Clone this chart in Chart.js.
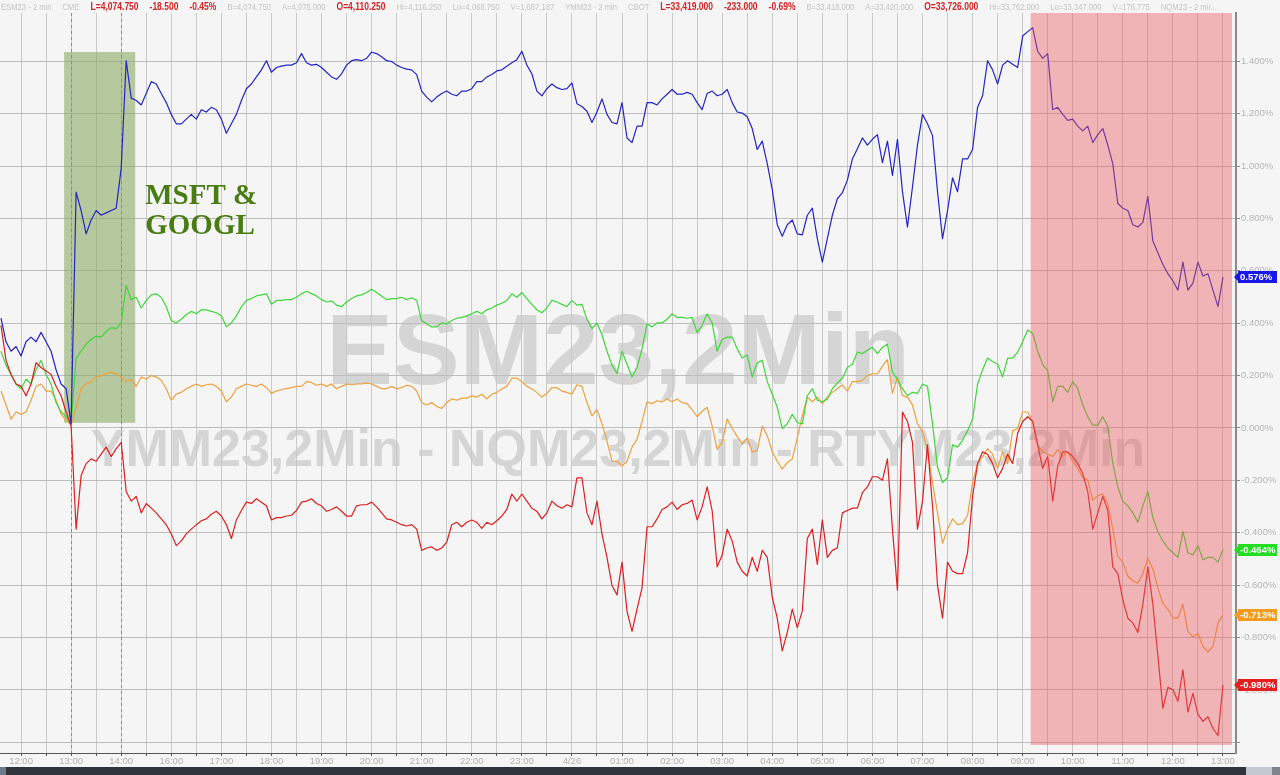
<!DOCTYPE html>
<html>
<head>
<meta charset="utf-8">
<script src="https://cdn.jsdelivr.net/npm/chart.js@4.4.0/dist/chart.umd.min.js"></script>
<style>
  html, body { margin: 0; padding: 0; background: #f5f5f5; }
  #wrap { width: 1280px; height: 775px; }
</style>
</head>
<body>
<div id="wrap"><canvas id="futuresChart" width="1280" height="775"></canvas></div>
<script>
// x axis runs in "session hours": 12:00 = 0, 13:00 next day = 24 (the 15:00 break is squeezed out)
const xTickLabels = ['12:00', '13:00', '14:00', '16:00', '17:00', '18:00', '19:00', '20:00', '21:00', '22:00',
  '23:00', '4/26', '01:00', '02:00', '03:00', '04:00', '05:00', '06:00', '07:00', '08:00', '09:00', '10:00',
  '11:00', '12:00', '13:00'];
const yTickValues = [1.4, 1.2, 1.0, 0.8, 0.6, 0.4, 0.2, 0, -0.2, -0.4, -0.6, -0.8, -1.0, -1.2];
const X_START = -0.4;
const X_STEP = 0.1;

// % change, one reading every 6 minutes
const nqValues = [
  0.419, 0.329, 0.293, 0.311, 0.275, 0.329, 0.347, 0.329, 0.365, 0.329, 0.293, 0.222, 0.168, 0.150, 0.016,
  0.900, 0.830, 0.741, 0.794, 0.830, 0.812, 0.821, 0.830, 0.839, 0.991, 1.402, 1.259, 1.250, 1.233, 1.277,
  1.322, 1.313, 1.277, 1.242, 1.197, 1.161, 1.161, 1.179, 1.197, 1.179, 1.215, 1.206, 1.224, 1.215, 1.179,
  1.125, 1.161, 1.197, 1.250, 1.295, 1.313, 1.340, 1.367, 1.402, 1.358, 1.376, 1.381, 1.385, 1.385, 1.394,
  1.429, 1.394,
  1.385, 1.388, 1.376, 1.358, 1.340, 1.331, 1.352, 1.385, 1.402, 1.406, 1.402, 1.411, 1.435, 1.429, 1.417,
  1.402, 1.399, 1.385, 1.376, 1.370, 1.367, 1.349, 1.286, 1.263, 1.245, 1.263, 1.277, 1.286, 1.274, 1.268,
  1.286, 1.286, 1.295, 1.322, 1.322, 1.340, 1.349, 1.363, 1.367, 1.381, 1.394, 1.406, 1.438, 1.385, 1.352,
  1.286, 1.268, 1.295, 1.313, 1.299, 1.292, 1.295, 1.317, 1.238, 1.227, 1.209, 1.166, 1.206, 1.256, 1.197,
  1.166,
  1.161, 1.242, 1.107, 1.089, 1.152, 1.152, 1.242, 1.242, 1.233, 1.256, 1.274, 1.292, 1.274, 1.274, 1.281,
  1.274, 1.242, 1.215, 1.277, 1.286, 1.268, 1.274, 1.292, 1.242, 1.206, 1.202, 1.188, 1.143, 1.063, 1.095,
  1.009, 0.911, 0.776, 0.732, 0.776, 0.794, 0.741, 0.737, 0.812, 0.839, 0.723, 0.633, 0.723, 0.812, 0.875,
  0.898, 0.946, 1.027, 1.066, 1.107, 1.080, 1.102, 1.120, 1.013, 1.095, 0.964, 1.102, 0.902, 0.767, 0.920,
  1.080,
  1.197, 1.161, 1.116, 0.902, 0.723, 0.830, 0.955, 0.902, 1.027, 1.027, 1.063, 1.224, 1.268, 1.402, 1.367,
  1.313, 1.385, 1.402, 1.388, 1.376, 1.496, 1.513, 1.528, 1.438, 1.411, 1.429, 1.215, 1.224, 1.197, 1.174,
  1.179, 1.152, 1.134, 1.152, 1.089, 1.120, 1.143, 1.080, 1.009, 0.857, 0.839, 0.830, 0.776, 0.767, 0.785,
  0.884, 0.714, 0.669, 0.624, 0.589, 0.562, 0.526, 0.633, 0.526, 0.553, 0.633, 0.580, 0.589, 0.526, 0.463,
  0.576
];
const esValues = [
  0.293, 0.240, 0.204, 0.168, 0.150, 0.186, 0.168, 0.222, 0.258, 0.204, 0.168, 0.097, 0.061, 0.043, 0.016,
  0.267, 0.293, 0.320, 0.338, 0.351, 0.347, 0.369, 0.383, 0.379, 0.401, 0.544, 0.490, 0.499, 0.458, 0.487,
  0.508, 0.512, 0.499, 0.463, 0.410, 0.401, 0.415, 0.433, 0.445, 0.436, 0.451, 0.451, 0.445, 0.440, 0.428,
  0.386, 0.401, 0.428, 0.463, 0.487, 0.494, 0.504, 0.508, 0.512, 0.472, 0.487, 0.487, 0.490, 0.490, 0.499,
  0.512, 0.522,
  0.513, 0.504, 0.490, 0.481, 0.485, 0.469, 0.463, 0.481, 0.494, 0.504, 0.508, 0.517, 0.530, 0.517, 0.504,
  0.490, 0.494, 0.494, 0.499, 0.490, 0.497, 0.487, 0.410, 0.397, 0.386, 0.386, 0.401, 0.397, 0.410, 0.419,
  0.422, 0.428, 0.436, 0.445, 0.436, 0.451, 0.458, 0.469, 0.476, 0.487, 0.512, 0.499, 0.517, 0.494, 0.472,
  0.451, 0.440, 0.458, 0.487, 0.481, 0.472, 0.463, 0.487, 0.469, 0.472, 0.415, 0.379, 0.401, 0.356, 0.293,
  0.240,
  0.208, 0.293, 0.243, 0.195, 0.231, 0.302, 0.397, 0.386, 0.401, 0.401, 0.415, 0.436, 0.422, 0.422, 0.419,
  0.422, 0.365, 0.392, 0.436, 0.401, 0.293, 0.338, 0.347, 0.347, 0.302, 0.267, 0.279, 0.195, 0.249, 0.258,
  0.177, 0.129, 0.079, -0.002, 0.016, 0.052, 0.021, 0.016, 0.123, 0.150, 0.106, 0.100, 0.111, 0.150, 0.172,
  0.190, 0.231, 0.243, 0.290, 0.284, 0.297, 0.308, 0.284, 0.308, 0.320, 0.213, 0.186, 0.150, 0.123, 0.136,
  0.132,
  0.168, 0.159, 0.016, -0.150, -0.208, -0.190, -0.064, -0.073, -0.047, -0.011, 0.034, 0.168, 0.222, 0.267, 0.254,
  0.243, 0.195, 0.267, 0.267, 0.290, 0.329, 0.374, 0.361, 0.293, 0.243, 0.218, 0.100, 0.159, 0.159, 0.136,
  0.177, 0.150, 0.088, 0.043, 0.011, 0.011, 0.043, 0.007, -0.136, -0.225, -0.279, -0.297, -0.324, -0.360, -0.297,
  -0.243, -0.342, -0.395, -0.431, -0.458, -0.476, -0.494, -0.395, -0.476, -0.485, -0.449, -0.503, -0.494, -0.494, -0.512,
  -0.464
];
const ymValues = [
  0.141, 0.088, 0.034, 0.061, 0.052, 0.061, 0.106, 0.159, 0.168, 0.141, 0.141, 0.106, 0.052, 0.029, 0.011,
  0.079, 0.150, 0.168, 0.177, 0.195, 0.200, 0.208, 0.213, 0.208, 0.195, 0.177, 0.186, 0.159, 0.195, 0.186,
  0.200, 0.195, 0.182, 0.150, 0.106, 0.129, 0.136, 0.150, 0.159, 0.168, 0.159, 0.165, 0.168, 0.159, 0.141,
  0.100, 0.118, 0.150, 0.159, 0.168, 0.163, 0.159, 0.168, 0.154, 0.132, 0.141, 0.147, 0.150, 0.154, 0.159,
  0.159, 0.177,
  0.174, 0.163, 0.168, 0.159, 0.168, 0.150, 0.159, 0.168, 0.165, 0.168, 0.168, 0.172, 0.168, 0.159, 0.150,
  0.150, 0.159, 0.150, 0.154, 0.163, 0.159, 0.141, 0.097, 0.088, 0.097, 0.082, 0.075, 0.097, 0.111, 0.106,
  0.114, 0.114, 0.123, 0.118, 0.129, 0.111, 0.129, 0.136, 0.150, 0.159, 0.190, 0.190, 0.177, 0.159, 0.150,
  0.136, 0.118, 0.132, 0.154, 0.154, 0.141, 0.136, 0.129, 0.165, 0.159, 0.097, 0.047, 0.070, 0.016, -0.050,
  -0.127,
  -0.127, -0.145, -0.127, -0.073, -0.043, 0.025, 0.100, 0.093, 0.104, 0.100, 0.111, 0.100, 0.111, 0.097, 0.093,
  0.070, 0.043, 0.064, 0.079, 0.007, -0.082, -0.055, 0.034, -0.002, -0.032, -0.061, -0.038, -0.091, -0.086, 0.007,
  -0.029, -0.091, -0.127, -0.157, -0.132, -0.118, -0.038, 0.047, 0.118, 0.100, 0.118, 0.093, 0.118, 0.136, 0.150,
  0.165, 0.141, 0.177, 0.177, 0.182, 0.200, 0.208, 0.206, 0.236, 0.261, 0.132, 0.195, 0.123, 0.118, 0.088,
  0.016,
  -0.014, -0.082, -0.208, -0.324, -0.440, -0.386, -0.347, -0.369, -0.365, -0.333, -0.208, -0.136, -0.109, -0.079, -0.100,
  -0.154, -0.091, -0.136, -0.011, -0.002, 0.061, 0.061, 0.025, -0.064, -0.091, -0.100, -0.109, -0.082, -0.109, -0.091,
  -0.127, -0.154, -0.190, -0.199, -0.275, -0.258, -0.252, -0.288, -0.386, -0.490, -0.512, -0.565, -0.583, -0.592, -0.556,
  -0.497, -0.538, -0.610, -0.669, -0.691, -0.726, -0.726, -0.673, -0.776, -0.798, -0.784, -0.834, -0.855, -0.834, -0.744,
  -0.713
];
const rtyValues = [
  0.392, 0.258, 0.204, 0.168, 0.159, 0.123, 0.168, 0.249, 0.231, 0.218, 0.204, 0.159, 0.123, 0.061, 0.007,
  -0.386, -0.181, -0.136, -0.118, -0.127, -0.100, -0.073, -0.109, -0.079, -0.055, -0.243, -0.279, -0.261, -0.324, -0.288,
  -0.306, -0.324, -0.347, -0.369, -0.404, -0.449, -0.431, -0.404, -0.386, -0.369, -0.354, -0.347, -0.329, -0.318, -0.336,
  -0.369, -0.422, -0.351, -0.315, -0.283, -0.288, -0.270, -0.283, -0.297, -0.351, -0.342, -0.342, -0.336, -0.333, -0.315,
  -0.283, -0.279,
  -0.270, -0.288, -0.297, -0.318, -0.311, -0.301, -0.318, -0.336, -0.336, -0.297, -0.293, -0.293, -0.283, -0.301, -0.324,
  -0.347, -0.351, -0.360, -0.369, -0.374, -0.369, -0.386, -0.467, -0.458, -0.454, -0.467, -0.458, -0.436, -0.369, -0.360,
  -0.377, -0.360, -0.351, -0.360, -0.383, -0.360, -0.369, -0.354, -0.336, -0.311, -0.252, -0.279, -0.252, -0.279, -0.306,
  -0.318, -0.347, -0.324, -0.279, -0.297, -0.306, -0.293, -0.301, -0.190, -0.190, -0.324, -0.369, -0.279, -0.404, -0.494,
  -0.601,
  -0.637, -0.512, -0.699, -0.776, -0.691, -0.610, -0.377, -0.377, -0.347, -0.311, -0.301, -0.283, -0.311, -0.293, -0.288,
  -0.275, -0.351, -0.301, -0.225, -0.315, -0.530, -0.485, -0.386, -0.431, -0.512, -0.547, -0.565, -0.494, -0.547, -0.467,
  -0.494, -0.646, -0.726, -0.851, -0.780, -0.691, -0.762, -0.699, -0.422, -0.386, -0.521, -0.351, -0.494, -0.467, -0.458,
  -0.324, -0.315, -0.306, -0.306, -0.247, -0.225, -0.186, -0.186, -0.199, -0.118, -0.386, -0.619, 0.061, 0.025, -0.055,
  -0.386,
  -0.279, -0.064, -0.297, -0.601, -0.726, -0.512, -0.547, -0.556, -0.556, -0.476, -0.261, -0.136, -0.091, -0.100, -0.136,
  -0.190, -0.154, -0.100, -0.136, -0.020, 0.025, 0.043, 0.025, -0.064, -0.154, -0.109, -0.279, -0.145, -0.091, -0.091,
  -0.109, -0.136, -0.175, -0.243, -0.386, -0.324, -0.261, -0.315, -0.530, -0.556, -0.655, -0.726, -0.744, -0.780, -0.673,
  -0.530, -0.673, -0.869, -1.070, -0.990, -0.999, -1.043, -0.923, -1.084, -1.013, -1.093, -1.120, -1.102, -1.147, -1.174,
  -0.980
];

// highlighted windows (session hours / %)
const earningsBox = { from: 0.86, to: 2.28, top: 1.435, bottom: 0.02 };
const selloffBox = { from: 20.16, to: 24.18, bottom: -1.21 };
const sessionMarks = [1, 2];
const calloutLines = ['MSFT &', 'GOOGL'];

const hours = nqValues.map((_, i) => Math.round((X_START + i * X_STEP) * 10) / 10);
const toPoints = vals => vals.map((v, i) => ({ x: hours[i], y: v }));

// header strip: [text, highlighted]
const headerItems = [
  ['ESM23 - 2 min', false], ['CME', false], ['L=4,074.750', true], ['-18.500', true], ['-0.45%', true],
  ['B=4,074.750', false], ['A=4,075.000', false], ['O=4,110.250', true], ['Hi=4,116.250', false],
  ['Lo=4,068.750', false], ['V=1,687,187', false], ['YMM23 - 2 min', false], ['CBOT', false],
  ['L=33,419.000', true], ['-233.000', true], ['-0.69%', true], ['B=33,418.000', false], ['A=33,420.000', false],
  ['O=33,726.000', true], ['Hi=33,762.000', false], ['Lo=33,347.000', false], ['V=176,775', false],
  ['NQM23 - 2 mir...', false]
];

const decorations = {
  id: 'decorations',
  beforeDraw(chart) {
    const { ctx, chartArea: a } = chart;
    ctx.save();
    ctx.fillStyle = '#f5f5f5';
    ctx.fillRect(0, 0, chart.width, chart.height);
    const cx = (a.left + a.right) / 2;
    ctx.fillStyle = 'rgba(150,150,150,0.33)';
    ctx.textAlign = 'center';
    ctx.textBaseline = 'alphabetic';
    ctx.font = 'bold 100px "Liberation Sans", Arial, sans-serif';
    ctx.fillText('ESM23,2Min', cx, 384);
    ctx.font = 'bold 52px "Liberation Sans", Arial, sans-serif';
    ctx.fillText('YMM23,2Min - NQM23,2Min - RTYM23,2Min', cx, 466);
    ctx.restore();
  },
  beforeDatasetsDraw(chart) {
    const { ctx, chartArea: a, scales: { x, y } } = chart;
    ctx.save();
    const gx0 = x.getPixelForValue(earningsBox.from);
    const gx1 = x.getPixelForValue(earningsBox.to);
    const gy0 = y.getPixelForValue(earningsBox.top);
    const gy1 = y.getPixelForValue(earningsBox.bottom);
    ctx.fillStyle = 'rgba(140,170,100,0.6)';
    ctx.fillRect(gx0, gy0, gx1 - gx0, gy1 - gy0);

    ctx.strokeStyle = '#8c8c8c';
    ctx.lineWidth = 1;
    ctx.setLineDash([3, 3]);
    sessionMarks.forEach(h => {
      const px = Math.round(x.getPixelForValue(h)) + 0.5;
      ctx.beginPath();
      ctx.moveTo(px, a.top);
      ctx.lineTo(px, a.bottom);
      ctx.stroke();
    });
    ctx.restore();
  },
  afterDatasetsDraw(chart) {
    const { ctx, chartArea: a, scales: { x, y } } = chart;
    ctx.save();
    const rx0 = x.getPixelForValue(selloffBox.from);
    const rx1 = x.getPixelForValue(selloffBox.to);
    const ry1 = y.getPixelForValue(selloffBox.bottom);
    ctx.fillStyle = 'rgba(235,90,95,0.42)';
    ctx.fillRect(rx0, a.top, rx1 - rx0, ry1 - a.top);

    // callout
    ctx.fillStyle = '#4a7c14';
    ctx.font = 'bold 29px "Liberation Serif", "Times New Roman", serif';
    ctx.textAlign = 'left';
    ctx.textBaseline = 'alphabetic';
    const tx = x.getPixelForValue(2.48);
    ctx.fillText(calloutLines[0], tx, y.getPixelForValue(0.855));
    ctx.fillText(calloutLines[1], tx, y.getPixelForValue(0.74));
    ctx.restore();
  },
  afterDraw(chart) {
    const { ctx, scales: { y } } = chart;
    ctx.save();
    // last-value tags on the right axis
    chart.data.datasets.forEach(ds => {
      const last = ds.data[ds.data.length - 1].y;
      const py = Math.round(y.getPixelForValue(last));
      ctx.fillStyle = ds.tagColor;
      ctx.beginPath();
      ctx.moveTo(1234, py);
      ctx.lineTo(1238, py - 4);
      ctx.lineTo(1238, py - 6);
      ctx.lineTo(1277, py - 6);
      ctx.lineTo(1277, py + 6);
      ctx.lineTo(1238, py + 6);
      ctx.lineTo(1238, py + 4);
      ctx.closePath();
      ctx.fill();
      ctx.fillStyle = '#ffffff';
      ctx.font = 'bold 9.5px "Liberation Sans", Arial, sans-serif';
      ctx.textAlign = 'left';
      ctx.textBaseline = 'middle';
      ctx.fillText(last.toFixed(3) + '%', 1240, py + 0.5);
    });

    // header strip, laid out left to right
    ctx.textBaseline = 'alphabetic';
    ctx.textAlign = 'left';
    const squeeze = 0.85;
    let hx = 1;
    headerItems.forEach(([txt, hot]) => {
      ctx.font = hot ? 'bold 10px "Liberation Sans", Arial, sans-serif' : '9px "Liberation Sans", Arial, sans-serif';
      ctx.fillStyle = hot ? '#d42424' : '#c4c4c4';
      ctx.save();
      ctx.translate(hx, 10);
      ctx.scale(squeeze, 1);
      ctx.fillText(txt, 0, 0);
      ctx.restore();
      hx += ctx.measureText(txt).width * squeeze + 11;
    });

    // scrollbar strip
    ctx.fillStyle = '#30353c';
    ctx.fillRect(0, 767, 1246, 8);
    ctx.fillStyle = '#6f7b8a';
    ctx.fillRect(0, 767, 6, 8);
    ctx.fillStyle = '#c3c7ce';
    ctx.fillRect(1246, 767, 26, 8);
    ctx.fillStyle = '#80858c';
    ctx.fillRect(1272, 767, 8, 8);
    ctx.restore();
  }
};

const ctx = document.getElementById('futuresChart').getContext('2d');

new Chart(ctx, {
  type: 'line',
  data: {
    datasets: [
      { label: 'NQM23', data: toPoints(nqValues), borderColor: '#2424c4', tagColor: '#1717e8' },
      { label: 'RTYM23', data: toPoints(rtyValues), borderColor: '#dc2020', tagColor: '#e21e1e' },
      { label: 'ESM23', data: toPoints(esValues), borderColor: '#3fd63a', tagColor: '#22dd22' },
      { label: 'YMM23', data: toPoints(ymValues), borderColor: '#eea03c', tagColor: '#f39c1f' }
    ]
  },
  options: {
    responsive: false,
    animation: false,
    events: [],
    layout: { padding: { top: 13, left: 0, right: 0, bottom: 0 } },
    elements: {
      point: { radius: 0 },
      line: { borderWidth: 1.2, tension: 0, borderJoinStyle: 'round' }
    },
    plugins: {
      legend: { display: false },
      tooltip: { enabled: false }
    },
    scales: {
      x: {
        type: 'linear',
        min: -0.42,
        max: 24.26,
        afterBuildTicks: s => {
          s.ticks = xTickLabels.flatMap((_, i) => i < xTickLabels.length - 1 ? [{ value: i }, { value: i + 0.5 }] : [{ value: i }]);
        },
        afterFit: s => { s.height = 22; },
        grid: { color: '#c9c9c9', lineWidth: 1, tickLength: 3, tickColor: '#555555' },
        border: { display: true, color: '#555555', width: 1 },
        ticks: {
          autoSkip: false,
          maxRotation: 0,
          padding: 0,
          color: '#b0b0b0',
          font: { family: '"Liberation Sans", Arial, sans-serif', size: 9.5 },
          callback: v => Number.isInteger(v) ? xTickLabels[v] : ''
        }
      },
      y: {
        position: 'right',
        min: -1.2405,
        max: 1.584,
        afterBuildTicks: s => { s.ticks = yTickValues.map(v => ({ value: v })); },
        afterFit: s => { s.width = 44; },
        grid: { color: '#bdbdbd', lineWidth: 1, tickLength: 4, tickColor: '#8a8a8a' },
        border: { display: true, color: '#8a8a8a', width: 2 },
        ticks: {
          padding: 1,
          color: '#b5b5b5',
          font: { family: '"Liberation Sans", Arial, sans-serif', size: 9.5 },
          callback: v => v <= -1.1 ? '' : v.toFixed(3) + '%'
        }
      }
    }
  },
  plugins: [decorations]
});
</script>
</body>
</html>
